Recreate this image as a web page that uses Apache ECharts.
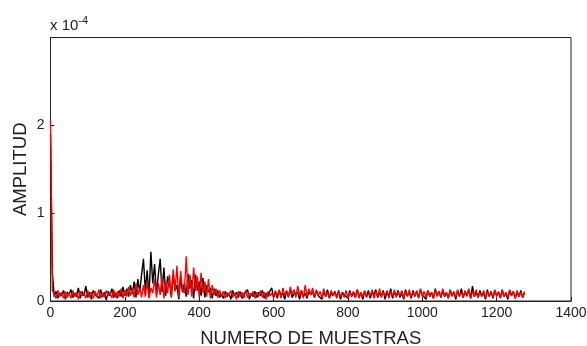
<!DOCTYPE html>
<html>
<head>
<meta charset="utf-8">
<script src="https://cdn.jsdelivr.net/npm/echarts@6/dist/echarts.min.js"></script>
<style>
  html, body { margin: 0; padding: 0; background: #fff; }
  #chart { width: 587px; height: 346px; }
</style>
</head>
<body>
<div id="chart"></div>
<script>
// samples are read every 5th point, amplitude in units of 1e-4
var sampleStep = 5;
var xTicks = [0, 200, 400, 600, 800, 1000, 1200, 1400];
var yTicks = [0, 1, 2];

var blackSeries = [
    1.90, 0.32,
    0.05, 0.11, 0.03, 0.09, 0.06, 0.12, 0.02, 0.10, 0.07, 0.13,
    0.04, 0.09, 0.05, 0.15, 0.03, 0.11, 0.06, 0.17, 0.04, 0.10,
    0.02, 0.12, 0.07, 0.09, 0.03, 0.13, 0.05, 0.10, 0.01, 0.11,
    0.06, 0.14, 0.04, 0.09, 0.03, 0.12, 0.05, 0.16,
    0.06, 0.14, 0.05, 0.18, 0.08, 0.22, 0.04, 0.25, 0.10, 0.30,
    0.48, 0.12, 0.35, 0.05, 0.56, 0.20, 0.42, 0.08, 0.30, 0.48, 0.10, 0.38, 0.06, 0.28,
    0.22, 0.04, 0.30, 0.12, 0.18, 0.02, 0.26, 0.10, 0.20, 0.05,
    0.31, 0.14, 0.24, 0.03, 0.30, 0.12, 0.22, 0.06, 0.26, 0.04,
    0.18, 0.10, 0.15, 0.03, 0.14, 0.06, 0.12, 0.04,
    0.08, 0.03, 0.11, 0.05, 0.09, 0.02, 0.12, 0.06, 0.10, 0.04,
    0.11, 0.03, 0.08, 0.06, 0.13, 0.02, 0.09, 0.05, 0.11, 0.04,
    0.10, 0.06, 0.12, 0.03, 0.09, 0.05, 0.11, 0.15, 0.04, 0.10,
    0.03, 0.12, 0.06, 0.09, 0.02, 0.11, 0.05, 0.13, 0.04, 0.08,
    0.06, 0.10, 0.02, 0.12, 0.05, 0.09, 0.03, 0.11, 0.07, 0.10,
    0.04, 0.12, 0.06, 0.08, 0.02, 0.11, 0.05, 0.13, 0.03, 0.09,
    0.06, 0.11, 0.04, 0.12, 0.02, 0.10, 0.07, 0.09, 0.03, 0.12,
    0.05, 0.10, 0.04, 0.13, 0.06, 0.09, 0.02, 0.11, 0.05, 0.12,
    0.03, 0.10, 0.07, 0.13, 0.04, 0.09, 0.06, 0.12, 0.02, 0.11,
    0.05, 0.14, 0.03, 0.10, 0.06, 0.12, 0.04, 0.09, 0.02, 0.13,
    0.06, 0.10, 0.03, 0.12, 0.05, 0.11, 0.04, 0.13, 0.07, 0.09,
    0.02, 0.12, 0.05, 0.10, 0.03, 0.14, 0.06, 0.11, 0.04, 0.12,
    0.05, 0.09, 0.03, 0.13, 0.06, 0.10, 0.02, 0.12, 0.05, 0.14,
    0.04, 0.11, 0.06, 0.13, 0.03, 0.17, 0.05, 0.10, 0.04, 0.12,
    0.06, 0.09, 0.02, 0.13, 0.05, 0.11, 0.03, 0.12, 0.06, 0.10,
    0.04, 0.13, 0.05, 0.09, 0.02, 0.12, 0.06, 0.11, 0.03, 0.10,
    0.05, 0.12, 0.04, 0.09
];

var redSeries = [
    2.05, 0.12,
    0.08, 0.03, 0.12, 0.05, 0.10, 0.03, 0.11, 0.04, 0.09, 0.03,
    0.12, 0.05, 0.10, 0.02, 0.11, 0.06, 0.09, 0.03, 0.12, 0.04,
    0.10, 0.03, 0.11, 0.05, 0.13, 0.03, 0.09, 0.04, 0.12, 0.06,
    0.10, 0.03, 0.13, 0.04, 0.11, 0.05, 0.14, 0.03,
    0.12, 0.05, 0.16, 0.06, 0.14, 0.04, 0.20, 0.07, 0.15, 0.04,
    0.18, 0.05, 0.22, 0.03, 0.15, 0.09, 0.25, 0.04, 0.20, 0.07, 0.28, 0.03, 0.22, 0.09,
    0.30, 0.05, 0.36, 0.11, 0.40, 0.04, 0.34, 0.13, 0.09, 0.51,
    0.07, 0.30, 0.05, 0.38, 0.11, 0.28, 0.04, 0.32, 0.09, 0.22,
    0.05, 0.25, 0.03, 0.18, 0.07, 0.14, 0.04, 0.12,
    0.05, 0.11, 0.03, 0.10, 0.06, 0.12, 0.04, 0.09, 0.02, 0.11,
    0.05, 0.10, 0.03, 0.12, 0.04, 0.09, 0.06, 0.11, 0.03, 0.10,
    0.05, 0.12, 0.04, 0.10, 0.02, 0.11, 0.06, 0.09, 0.04, 0.12,
    0.05, 0.13, 0.03, 0.15, 0.06, 0.12, 0.04, 0.16, 0.07, 0.13,
    0.04, 0.17, 0.06, 0.12, 0.03, 0.18, 0.05, 0.14, 0.07, 0.15,
    0.04, 0.13, 0.06, 0.11, 0.03, 0.14, 0.05, 0.10, 0.04, 0.12,
    0.06, 0.10, 0.03, 0.11, 0.05, 0.09, 0.04, 0.12, 0.03, 0.10,
    0.06, 0.11, 0.04, 0.13, 0.03, 0.10, 0.05, 0.12, 0.04, 0.09,
    0.06, 0.13, 0.03, 0.11, 0.05, 0.14, 0.04, 0.10, 0.06, 0.12,
    0.03, 0.11, 0.05, 0.13, 0.04, 0.10, 0.06, 0.12, 0.03, 0.11,
    0.05, 0.13, 0.04, 0.10, 0.06, 0.12, 0.03, 0.14, 0.05, 0.11,
    0.04, 0.12, 0.06, 0.10, 0.03, 0.13, 0.05, 0.11, 0.04, 0.14,
    0.06, 0.10, 0.03, 0.12, 0.05, 0.11, 0.04, 0.13, 0.06, 0.10,
    0.04, 0.12, 0.05, 0.14, 0.03, 0.11, 0.06, 0.13, 0.04, 0.10,
    0.05, 0.12, 0.03, 0.11, 0.06, 0.10, 0.04, 0.13, 0.05, 0.11,
    0.03, 0.12, 0.05, 0.10, 0.04, 0.13, 0.06, 0.11, 0.03, 0.12,
    0.05, 0.10, 0.04, 0.11
];

function toPoints(values) {
    return values.map(function (v, i) { return [i * sampleStep, v]; });
}

var chart = echarts.init(document.getElementById('chart'));
var fontFam = 'Liberation Sans, Arial, sans-serif';

var option = {
    backgroundColor: '#fff',
    animation: false,
    grid: {
        left: 50.5, right: 16, top: 37.5, bottom: 45,
        outerBoundsMode: 'none',
        containLabel: false,
        show: true, borderColor: '#222', borderWidth: 1, backgroundColor: 'transparent'
    },
    xAxis: {
        type: 'value',
        min: 0, max: 1400, interval: 200,
        name: 'NUMERO DE MUESTRAS',
        nameLocation: 'middle',
        nameGap: 28,
        nameTextStyle: { fontFamily: fontFam, fontSize: 18.5, color: '#222' },
        axisLine: { show: true, onZero: false, lineStyle: { color: '#222' } },
        axisTick: { inside: true, length: 4, lineStyle: { color: '#222' } },
        axisLabel: {
            fontFamily: fontFam, fontSize: 14, color: '#222', margin: 5,
            formatter: function (v) { return xTicks.indexOf(v) >= 0 ? String(v) : ''; }
        },
        splitLine: { show: false }
    },
    yAxis: {
        type: 'value',
        min: 0, max: 3, interval: 1,
        name: 'AMPLITUD',
        nameLocation: 'middle',
        nameGap: 20,
        nameMoveOverlap: false,
        nameTextStyle: { fontFamily: fontFam, fontSize: 18.5, color: '#222' },
        axisLine: { show: true, lineStyle: { color: '#222' } },
        axisTick: { inside: true, length: 4, lineStyle: { color: '#222' } },
        axisLabel: {
            fontFamily: fontFam, fontSize: 14, color: '#222', margin: 6,
            formatter: function (v) { return yTicks.indexOf(v) >= 0 ? String(v) : ''; }
        },
        splitLine: { show: false }
    },
    graphic: [{
        type: 'text',
        left: 50, top: 15,
        style: {
            text: 'x 10{sup|-4}',
            fontFamily: fontFam, fontSize: 15, fill: '#222',
            rich: { sup: { fontSize: 11, verticalAlign: 'top', padding: [0, 0, 10, 0], fontFamily: fontFam, fill: '#222' } }
        }
    }],
    series: [
        {
            type: 'line', data: toPoints(blackSeries), showSymbol: false,
            lineStyle: { color: '#000', width: 1.4 }, z: 2
        },
        {
            type: 'line', data: toPoints(redSeries), showSymbol: false,
            lineStyle: { color: '#ff0000', width: 1.4 }, z: 3
        }
    ]
};

chart.setOption(option);
</script>
</body>
</html>
